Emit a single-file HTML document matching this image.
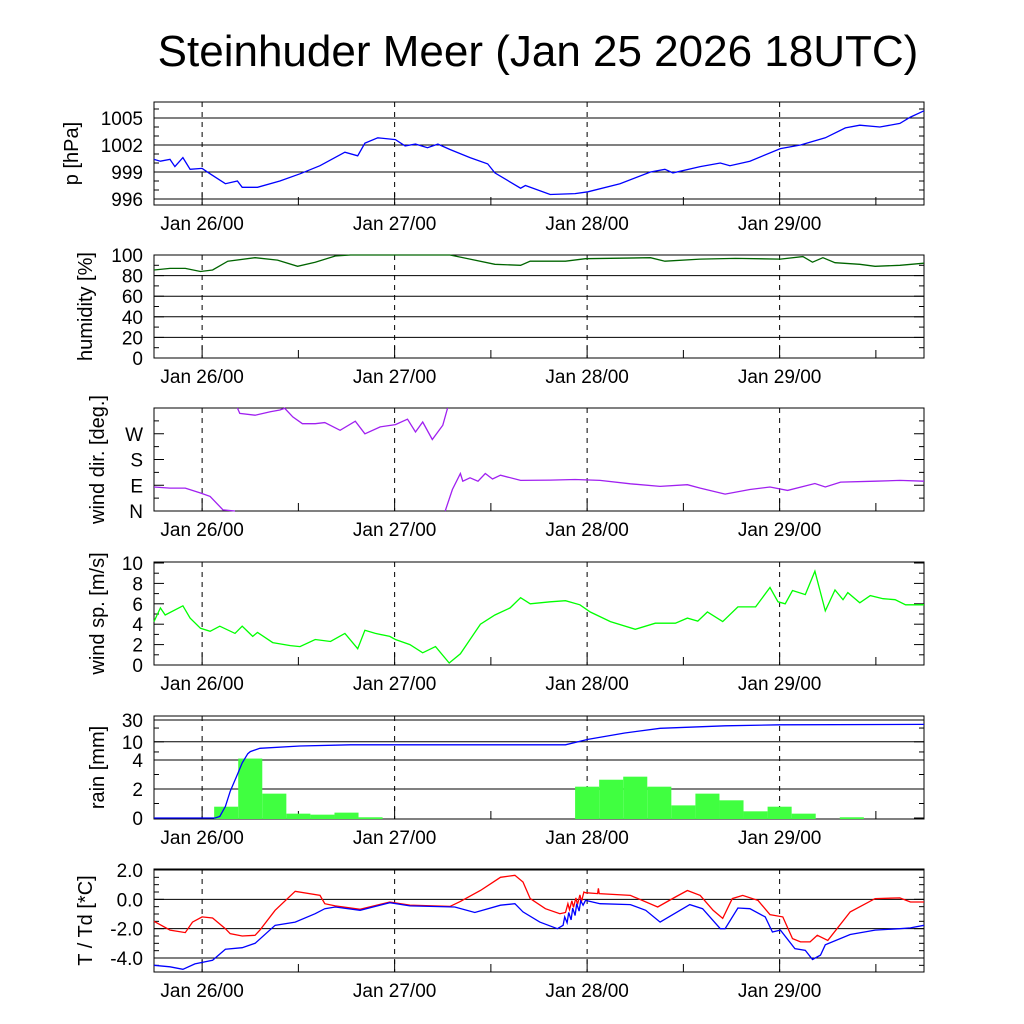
<!DOCTYPE html>
<html><head><meta charset="utf-8"><style>
body{margin:0;background:#fff}
svg{display:block;font-family:"Liberation Sans",sans-serif}
</style></head><body>
<svg id="chart" width="1024" height="1024" xmlns="http://www.w3.org/2000/svg">
<text x="538" y="66" text-anchor="middle" font-size="44">Steinhuder Meer (Jan 25 2026 18UTC)</text>
</svg>
<script>
// ---- data (hours relative to Jan 26 00UTC) ----
const dayLabels = ["Jan 26/00","Jan 27/00","Jan 28/00","Jan 29/00"];
const dayHours = [0,24,48,72];

const pHours = [-6,-5.2,-4,-3.4,-2.4,-1.5,0,1,2.9,4.4,5,6.9,9.7,12.2,14.7,17.8,19.4,20.3,21.9,24.1,25.3,26.6,28.1,29.4,30.9,33.4,35.6,36.5,39.7,40.3,43.4,46.5,48.1,52.1,55.9,57.7,58.7,62.1,64.6,65.8,68.3,72.1,74.6,77.7,80.2,82,84.5,87,88.3,90];
const pValues = [1000.4,1000.2,1000.4,999.6,1000.6,999.3,999.4,998.8,997.7,998,997.3,997.3,998,998.8,999.7,1001.2,1000.8,1002.2,1002.8,1002.6,1001.9,1002.1,1001.7,1002.1,1001.5,1000.6,999.9,998.9,997.2,997.5,996.5,996.6,996.8,997.7,999,999.3,998.9,999.6,1000,999.7,1000.2,1001.6,1002,1002.8,1003.9,1004.2,1004,1004.4,1005.1,1005.8];

const hHours = [-6,-4,-2.1,-0.2,1.3,3.2,6.6,9.4,11.9,14.1,16.6,18.5,30.9,33.4,36.5,39.7,40.9,45.3,47.8,55.9,57.7,62.1,66.5,72.1,74.9,76.1,77.4,78.9,82,83.9,87,90];
const hValues = [85.4,87,87,84,85.4,94,97.4,95,89,93,99,100,100,96,91,90,94,94,96.4,97.4,94,96,96.7,96,98.4,93,97.4,92.5,91,89,90,92];

const wdSeg1Hours = [-6,-4,-2.1,-0.2,1,2.6,4.1];
const wdSeg1Values = [84,80,80,63,51,4,0];
const wdSeg2Hours = [4.4,4.7,6.6,8.5,9.7,10.3,11.3,12.5,14.1,15.3,17.2,19.1,20.3,22.2,24.1,25.6,26.6,27.5,28.7,30,30.6];
const wdSeg2Values = [360,341,335,347,353,359,329,305,305,309,282,314,270,294,302,321,276,311,250,300,360];
const wdSeg3Hours = [30.3,30.6,31.2,32.2,32.5,33.4,34.4,35.3,36.2,37.2,39.7,43.4,46.5,49.6,53.4,57.1,60.5,62.1,65.2,68.3,70.8,73,76.4,77.7,79.6,83.9,87,90];
const wdSeg3Values = [0,25,75,131,104,116,104,131,112,125,107,108,110,107,95,86,92,80,59,75,84,72,96,84,101,104,107,104];

const wsHours = [-6,-5.2,-4.6,-2.4,-1.5,-0.2,1,2.2,4.1,5,6.3,6.9,8.8,11,12.2,14.1,16,17.8,19.4,20.3,21.6,23.4,24.1,25.9,27.5,29.1,30.8,32.2,34.7,36.5,38.4,39.7,40.9,43.4,45.3,47.1,48.4,50.9,54,56.5,59,60.5,61.8,63,64.9,66.8,69,70.8,71.8,72.7,73.6,75.2,76.4,77.7,78.9,79.9,80.5,82,83.3,84.9,86.4,87.7,90];
const wsValues = [4.25,5.6,4.9,5.8,4.6,3.6,3.3,3.8,3.1,3.8,2.8,3.2,2.2,1.9,1.8,2.5,2.3,3.1,1.6,3.4,3.1,2.8,2.5,2,1.2,1.8,0.2,1.1,4,4.9,5.6,6.6,6,6.2,6.3,5.9,5.2,4.25,3.5,4.1,4.1,4.6,4.3,5.2,4.25,5.7,5.7,7.6,6.2,6,7.3,6.9,9.2,5.3,7.35,6.4,7.1,6.1,6.8,6.5,6.4,5.9,5.9];

const rainBarHours = [3,6,9,12,15,18,21,48,51,54,57,60,63,66,69,72,75,81];
const rainBarValues = [0.78,4.3,1.68,0.3,0.23,0.37,0.05,2.16,2.64,2.85,2.16,0.87,1.68,1.22,0.46,0.78,0.3,0.05];
const rainSumHours = [-6,1.6,2.2,2.9,3.5,4.4,5,5.7,6,7.2,12.2,18.5,45.3,48.1,52.7,57.1,65.2,72.1,90];
const rainSumValues = [0,0,0.1,0.8,1.84,3,3.8,5.5,6.1,7.2,8.1,8.6,8.6,11.3,15.6,19.7,22.4,23.6,24];

const tHours = [-6,-4,-2.1,-1.2,0,1.3,2.9,3.5,5,6.6,7.2,9.1,11.6,14.7,15.3,16.6,19.7,23.4,25.9,30.9,32.2,34.7,37.2,39,40,40.9,42.8,44.6,45.3,45.6,45.8,46.1,46.3,46.6,46.8,47.1,47.3,47.6,47.8,49.3,49.4,49.5,53.4,56.8,59,60.5,62.1,63.7,64.9,66.1,67.4,69.3,70.8,72.4,73.6,74.6,75.8,76.7,78,80.8,83.9,87,88.3,90];
const tValues = [-1.5,-2.1,-2.27,-1.55,-1.2,-1.27,-2,-2.34,-2.5,-2.45,-2.1,-0.75,0.55,0.27,-0.3,-0.45,-0.68,-0.18,-0.4,-0.48,-0.14,0.6,1.5,1.64,1.18,0.05,-0.64,-0.98,-0.9,-0.3,-0.7,-0.1,-0.55,0.1,-0.35,0.3,-0.15,0.5,0.45,0.39,0.75,0.39,0.27,-0.52,0.16,0.6,0.27,-0.75,-1.3,0.05,0.27,-0.07,-1.05,-1.2,-2.68,-2.9,-2.9,-2.45,-2.8,-0.86,0.05,0.1,-0.18,-0.18];
const tdHours = [-6,-4,-2.4,-0.9,1.3,2.9,5,6.6,9.1,11.6,14.1,15.3,16.6,19.7,23.4,25.9,31.5,34,37.2,39,40,42.1,44.3,45,45.2,45.5,45.7,46,46.2,46.5,46.7,47,47.2,47.5,47.8,49.6,53.4,55.3,57.1,60.8,62.4,64.6,65.2,66.8,68.3,70.2,71.1,72.1,73.9,75.2,76.1,77.1,77.7,80.8,83.9,87,88.3,90];
const tdValues = [-4.5,-4.6,-4.77,-4.4,-4.16,-3.4,-3.3,-3,-1.77,-1.55,-0.98,-0.64,-0.52,-0.75,-0.23,-0.45,-0.52,-0.9,-0.4,-0.3,-0.86,-1.55,-2,-1.77,-1.2,-1.6,-0.9,-1.4,-0.6,-1.1,-0.3,-0.8,-0.1,-0.4,-0.07,-0.3,-0.36,-0.75,-1.55,-0.36,-0.64,-2,-2,-0.59,-0.64,-1.2,-2.23,-2.1,-3.36,-3.48,-4.1,-3.8,-3.1,-2.4,-2.1,-2,-1.95,-1.77];

// ---- layout ----
const NS = "http://www.w3.org/2000/svg";
const svg = document.getElementById("chart");
const L = 154, R = 924, H0 = -6, H1 = 90;
function X(h){ return L + (h - H0) * (R - L) / (H1 - H0); }
function lin(v0, v1, y0, y1){ return v => y0 + (v - v0) * (y1 - y0) / (v1 - v0); }
function rainY(v){ return v <= 4 ? 818 - v * 14.5 : 760 - Math.log10(v / 4) / Math.log10(7.5) * 40; }

function el(tag, attrs, parent){
  const e = document.createElementNS(NS, tag);
  for (const k in attrs) e.setAttribute(k, attrs[k]);
  (parent || svg).appendChild(e);
  return e;
}

function panel(cfg){
  const g = el("g", {});
  
  
  const {top, bot, Y} = cfg;
  cfg.grid.forEach(v => {
    const ln = el("line", {x1:L, x2:R, y1:Y(v), y2:Y(v), stroke:"#000", "stroke-width":1}, g);
    
    
  });
  cfg.minor.forEach(v => {
    el("line", {x1:L, x2:L+5, y1:Y(v), y2:Y(v), stroke:"#000"}, g);
    el("line", {x1:R-5, x2:R, y1:Y(v), y2:Y(v), stroke:"#000"}, g);
  });
  cfg.ticks.forEach((v, i) => {
    el("line", {x1:L, x2:L+10, y1:Y(v), y2:Y(v), stroke:"#000"}, g);
    el("line", {x1:R-10, x2:R, y1:Y(v), y2:Y(v), stroke:"#000"}, g);
    const t = el("text", {x:143, y:Y(v)+7, "text-anchor":"end", "font-size":19}, g);
    t.textContent = cfg.labels[i];
    
    
  });
  dayHours.forEach((h, i) => {
    const dl = el("line", {x1:X(h), x2:X(h), y1:top, y2:bot, stroke:"#000", "stroke-dasharray":"5,5"}, g);
    
    
    el("line", {x1:X(h), x2:X(h), y1:bot-12, y2:bot, stroke:"#000"}, g);
    el("line", {x1:X(h+12), x2:X(h+12), y1:bot-8, y2:bot, stroke:"#000"}, g);
    const t = el("text", {x:X(h), y:bot+25, "text-anchor":"middle", "font-size":19}, g);
    t.textContent = dayLabels[i];
    
    
  });
  const fr = el("rect", {x:L, y:top, width:R-L, height:bot-top, fill:"none", stroke:"#000", "stroke-width":1}, g);
  
  
  const cy = (top + bot) / 2;
  const yt = el("text", {x:0, y:0, transform:`translate(${cfg.tx||82},${cy}) rotate(-90)`, "text-anchor":"middle", "font-size":20}, g);
  yt.textContent = cfg.title;
  
  
  return g;
}

function line(hours, vals, Y, color, name, g){
  const pts = hours.map((h, i) => X(h).toFixed(1) + "," + Y(vals[i]).toFixed(1)).join(" ");
  const pl = el("polyline", {points:pts, fill:"none", stroke:color, "stroke-width":1.3}, g);
  
  
}

// pressure
const Yp = lin(996, 1005, 199, 118);
const gp = panel({name:"pressure", top:102, bot:205, Y:Yp, grid:[996,999,1002,1005], ticks:[996,999,1002,1005], labels:["996","999","1002","1005"], minor:[997,998,1000,1001,1003,1004,1006], title:"p [hPa]", tx:78});
line(pHours, pValues, Yp, "#0000ff", "pressure-line", gp);

// humidity
const Yh = lin(0, 100, 358, 255);
const gh = panel({name:"humidity", top:255, bot:358, Y:Yh, grid:[20,40,60,80], ticks:[0,20,40,60,80,100], labels:["0","20","40","60","80","100"], minor:[10,30,50,70,90], title:"humidity [%]", tx:92});
line(hHours, hValues, Yh, "#006400", "humidity-line", gh);

// wind dir
const Yd = lin(0, 360, 511, 408);
const gd = panel({name:"wind-direction", top:408, bot:511, Y:Yd, grid:[], ticks:[0,90,180,270], labels:["N","E","S","W"], minor:[45,135,225,315], title:"wind dir. [deg.]", tx:104});
line(wdSeg1Hours, wdSeg1Values, Yd, "#a020f0", "wind-direction-line-1", gd);
line(wdSeg2Hours, wdSeg2Values, Yd, "#a020f0", "wind-direction-line-2", gd);
line(wdSeg3Hours, wdSeg3Values, Yd, "#a020f0", "wind-direction-line-3", gd);

// wind speed
const Ys = lin(0, 10, 665, 563);
const gs = panel({name:"wind-speed", top:562, bot:665, Y:Ys, grid:[], ticks:[0,2,4,6,8,10], labels:["0","2","4","6","8","10"], minor:[1,3,5,7,9], title:"wind sp. [m/s]", tx:104});
line(wsHours, wsValues, Ys, "#00ff00", "wind-speed-line", gs);

// rain
const gr = panel({name:"rain", top:716, bot:819, Y:rainY, grid:[2,4,10,30], ticks:[0,2,4,10,30], labels:["0","2","4","10","30"], minor:[1,3,6,20], title:"rain [mm]", tx:104});
rainBarHours.forEach((h, i) => {
  const b = el("rect", {x:X(h-1.5), y:rainY(rainBarValues[i]), width:X(h+1.5)-X(h-1.5), height:819-rainY(rainBarValues[i]), fill:"#40ff40"}, gr);
  
  
});
line(rainSumHours, rainSumValues, rainY, "#0000ff", "rain-sum-line", gr);

// temperature
const Yt = lin(-4, 2, 958, 870);
const gt = panel({name:"temperature", top:869, bot:972, Y:Yt, grid:[-4,-2,0,2], ticks:[-4,-2,0,2], labels:["-4.0","-2.0","0.0","2.0"], minor:[-4.5,-3.5,-3,-2.5,-1.5,-1,-0.5,0.5,1,1.5], title:"T / Td [*C]", tx:92});
line(tHours, tValues, Yt, "#ff0000", "temperature-line", gt);
line(tdHours, tdValues, Yt, "#0000ff", "dewpoint-line", gt);
</script>
</body></html>
